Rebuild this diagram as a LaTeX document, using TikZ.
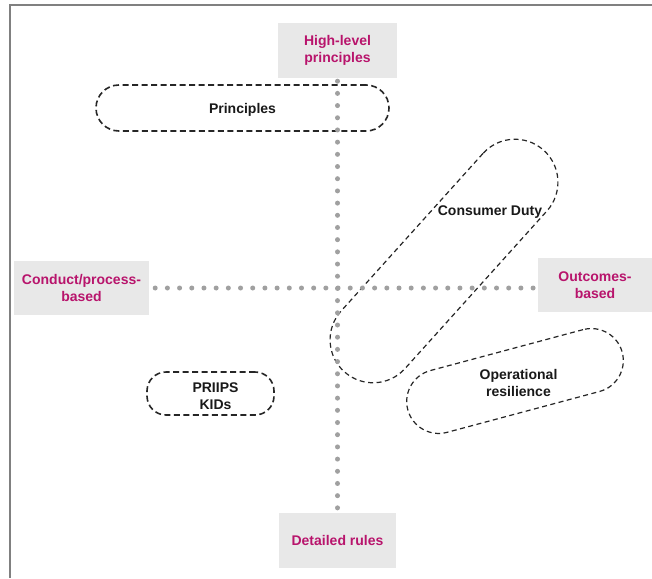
\documentclass[tikz,border=0pt]{standalone}
\usepackage{fontspec}
\setmainfont{Liberation Sans}
\definecolor{mag}{RGB}{184,20,108}
\definecolor{boxgray}{RGB}{232,232,232}
\definecolor{dotgray}{RGB}{160,160,160}
\definecolor{framegray}{RGB}{128,128,128}
\begin{document}
\begin{tikzpicture}[x=1pt,y=-1pt,
  axisbox/.style={fill=boxgray, text=mag, font=\bfseries\fontsize{14}{17}\selectfont, align=center, inner sep=0pt},
  lbl/.style={font=\bfseries\fontsize{14}{17}\selectfont, align=center, inner sep=0pt, text=black!90},
  blob/.style={draw=black!85, dash pattern=on 5pt off 3.5pt, line width=1.2pt, inner sep=0pt},
  blobthick/.style={blob, line width=1.6pt, dash pattern=on 6pt off 3.5pt},
  dots/.style={draw=dotgray, line width=5pt, line cap=round, dash pattern=on 0pt off 12.19pt}]
\useasboundingbox (0,0) rectangle (652,578);
\fill[white] (0,0) rectangle (652,578);
% frame
\draw[framegray, line width=2pt] (9,5.5) -- (652,5.5);
\draw[framegray, line width=2pt] (10,4.5) -- (10,578);
% axis boxes
\node[axisbox, minimum width=119pt, minimum height=55pt] (top) at (337.5,50.5) {High-level\\principles};
\node[axisbox, minimum width=117pt, minimum height=55pt] (bottom) at (337.5,540) {Detailed rules};
\node[axisbox, minimum width=135pt, minimum height=54pt] (left) at (81.5,288) {Conduct/process-\\based};
\node[axisbox, minimum width=114pt, minimum height=54pt] (right) at (595,285) {Outcomes-\\based};
% shapes
\node[blobthick, rectangle, rounded corners=23pt, minimum width=293pt, minimum height=46pt] (princ) at (242.5,108) {};
\node[lbl] (princt) at (242.5,109.5) {Principles};
\node[blobthick, rectangle, rounded corners=19pt, minimum width=127pt, minimum height=43pt] (priips) at (210.5,393.5) {};
\node[lbl] (priipst) at (215.5,396) {PRIIPS\\KIDs};
\node[blob, rectangle, rounded corners=43pt, minimum width=298pt, minimum height=86pt, rotate=48] (duty) at (444,261) {};
\node[lbl] (dutyt) at (490,212) {Consumer Duty};
\node[blob, rectangle, rounded corners=32pt, minimum width=222pt, minimum height=64pt, rotate=15] (opres) at (515,381) {};
\node[lbl] (oprest) at (518.5,383) {Operational\\resilience};
% dotted axes
\draw[dots, shorten <=3pt, shorten >=3pt] (top.south) -- (bottom.north);
\draw[dots, shorten <=6pt, shorten >=4.5pt] (left.east) -- (left.east -| right.west);
\end{tikzpicture}
\end{document}
